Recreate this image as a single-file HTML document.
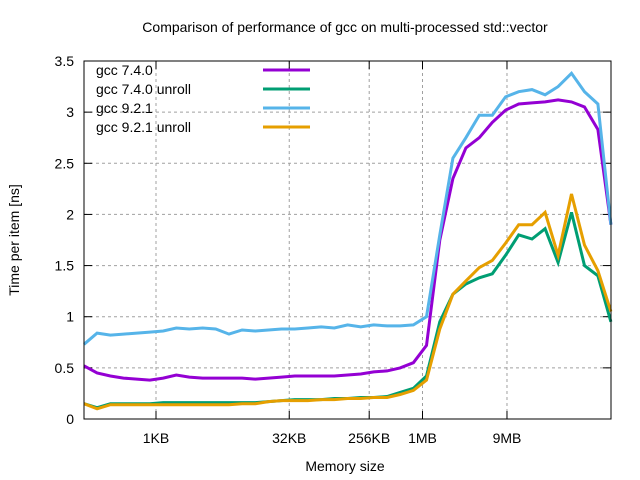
<!DOCTYPE html>
<html><head><meta charset="utf-8"><style>
body{margin:0;background:#fff}
svg{display:block;font-family:"Liberation Sans",sans-serif;font-size:14px}
</style></head><body>
<svg id="chart" width="640" height="480">
<text x="345" y="32" text-anchor="middle">Comparison of performance of gcc on multi-processed std::vector</text>
<g id="grid"></g>
<g id="axes"></g>
<text x="345" y="471" text-anchor="middle">Memory size</text>
<text transform="translate(19,240) rotate(-90)" text-anchor="middle">Time per item [ns]</text>
<g id="series"></g>
<g id="legend"></g>
<rect x="84" y="61" width="527" height="358" fill="none" stroke="#000" stroke-width="1"/>
</svg>
<script>
const seriesNames = ["gcc 7.4.0","gcc 7.4.0 unroll","gcc 9.2.1","gcc 9.2.1 unroll"];
const seriesColors = ["#9400d3","#009e73","#56b4e9","#e69f00"];
const xTickLabels = ["1KB","32KB","256KB","1MB","9MB"];
const xTickLog2 = [10,15,18,20,23.17];
const yTicks = [0,0.5,1,1.5,2,2.5,3,3.5];
const yTickLabels = ["0","0.5","1","1.5","2","2.5","3","3.5"];
const sizesLog2 = [7.30,7.79,8.29,8.78,9.28,9.77,10.27,10.76,11.25,11.75,12.24,12.74,13.23,13.73,14.22,14.71,15.21,15.70,16.20,16.69,17.19,17.68,18.17,18.67,19.16,19.66,20.15,20.65,21.14,21.63,22.13,22.62,23.12,23.61,24.11,24.60,25.09,25.59,26.08,26.58,27.07];
const gcc740 = [0.52,0.45,0.42,0.40,0.39,0.38,0.40,0.43,0.41,0.40,0.40,0.40,0.40,0.39,0.40,0.41,0.42,0.42,0.42,0.42,0.43,0.44,0.46,0.47,0.50,0.55,0.72,1.75,2.35,2.65,2.75,2.90,3.02,3.08,3.09,3.10,3.12,3.10,3.05,2.83,1.90];
const gcc740u = [0.15,0.11,0.15,0.15,0.15,0.15,0.16,0.16,0.16,0.16,0.16,0.16,0.16,0.16,0.17,0.18,0.19,0.19,0.19,0.20,0.20,0.21,0.21,0.22,0.26,0.30,0.42,0.95,1.22,1.32,1.38,1.42,1.60,1.80,1.76,1.86,1.53,2.02,1.50,1.40,0.95];
const gcc921 = [0.73,0.84,0.82,0.83,0.84,0.85,0.86,0.89,0.88,0.89,0.88,0.83,0.87,0.86,0.87,0.88,0.88,0.89,0.90,0.89,0.92,0.90,0.92,0.91,0.91,0.92,1.00,1.80,2.55,2.75,2.97,2.97,3.15,3.20,3.22,3.17,3.25,3.38,3.20,3.08,1.90];
const gcc921u = [0.15,0.10,0.14,0.14,0.14,0.14,0.14,0.14,0.14,0.14,0.14,0.14,0.15,0.15,0.17,0.18,0.18,0.18,0.19,0.19,0.20,0.20,0.21,0.21,0.24,0.28,0.38,0.88,1.22,1.35,1.48,1.55,1.72,1.90,1.90,2.02,1.60,2.20,1.70,1.45,1.05];
const allSeries = [gcc740,gcc740u,gcc921,gcc921u];
const NS="http://www.w3.org/2000/svg";
const L=84,R=611,T=61,B=419;
const xs=v=>156+(v-10)*26.65;
const ys=v=>B-(v/3.5)*(B-T);
function mk(tag,attrs,parent){const e=document.createElementNS(NS,tag);for(const k in attrs)e.setAttribute(k,attrs[k]);parent.appendChild(e);return e;}
const grid=document.getElementById('grid'),axes=document.getElementById('axes'),ser=document.getElementById('series'),leg=document.getElementById('legend');
yTicks.forEach((t,i)=>{const y=ys(t);
 if(i>0&&i<yTicks.length-1){const g=mk('line',{x1:L,x2:R,y1:y,y2:y,stroke:'#a0a0a0','stroke-dasharray':'3,3'},grid);
 
 }
 mk('line',{x1:L,x2:L+8,y1:y,y2:y,stroke:'#000'},axes);mk('line',{x1:R,x2:R-8,y1:y,y2:y,stroke:'#000'},axes);
 const tx=mk('text',{x:L-10,y:y+5,'text-anchor':'end'},axes);tx.textContent=yTickLabels[i];
 
 
});
xTickLog2.forEach((v,i)=>{const x=xs(v);
 const g=mk('line',{x1:x,x2:x,y1:T,y2:B,stroke:'#a0a0a0','stroke-dasharray':'3,3'},grid);
 
 
 mk('line',{x1:x,x2:x,y1:B,y2:B-8,stroke:'#000'},axes);mk('line',{x1:x,x2:x,y1:T,y2:T+8,stroke:'#000'},axes);
 const tx=mk('text',{x:x,y:B+24,'text-anchor':'middle'},axes);tx.textContent=xTickLabels[i];
 
 
});
allSeries.forEach((s,k)=>{
 const pts=s.map((v,i)=>xs(sizesLog2[i]).toFixed(1)+','+ys(v).toFixed(1)).join(' ');
 const p=mk('polyline',{points:pts,fill:'none',stroke:seriesColors[k],'stroke-width':3,'stroke-linejoin':'miter'},ser);
 
 
 const y=75+k*19;
 const t=mk('text',{x:96,y:y},leg);t.textContent=seriesNames[k];
 
 
 const l=mk('line',{x1:263,x2:310,y1:y-5,y2:y-5,stroke:seriesColors[k],'stroke-width':3},leg);
 
 
});
</script>
</body></html>
